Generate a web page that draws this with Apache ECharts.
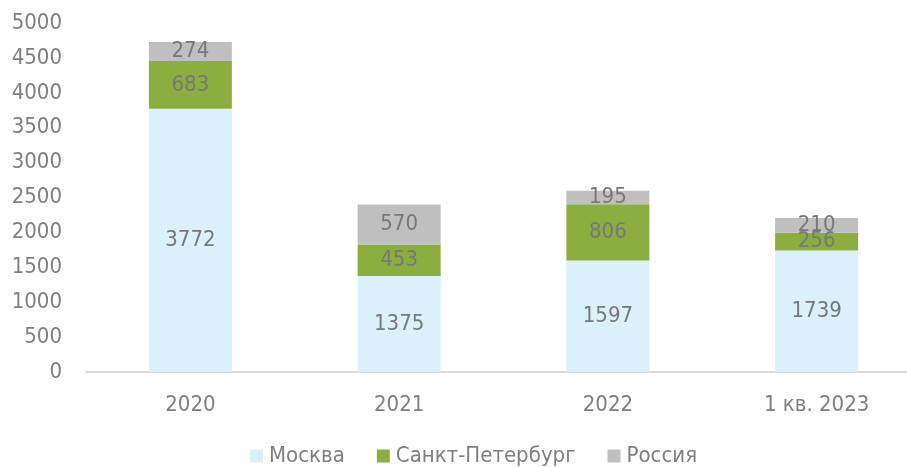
<!DOCTYPE html>
<html><head><meta charset="utf-8">
<script src="https://cdn.jsdelivr.net/npm/echarts@6/dist/echarts.min.js"></script>
<style>html,body{margin:0;padding:0;background:#fff;overflow:hidden}#c{width:922px;height:467px}</style>
</head><body><div id="c"></div>
<script>
const categories = ['2020', '2021', '2022', '1 кв. 2023'];
const moscow = [3772, 1375, 1597, 1739];
const spb = [683, 453, 806, 256];
const russia = [274, 570, 195, 210];
const seriesNames = ['Москва', 'Санкт-Петербург', 'Россия'];
const colors = ['#daf0fa', '#8cae40', '#bfbfbf'];

const FONT = '"DejaVu Sans Condensed", "DejaVu Sans", sans-serif';
const chart = echarts.init(document.getElementById('c'));
const lbl = {show: true, position: 'inside', color: '#787878', fontSize: 22, fontFamily: FONT};
chart.setOption({
  animation: false,
  grid: {left: 86, top: 23, right: 1, bottom: 95, containLabel: false},
  legend: {
    bottom: -5, left: 245, itemWidth: 13, itemHeight: 13, itemGap: 32,
    icon: 'rect',
    textStyle: {fontSize: 22, color: '#808080', fontFamily: FONT, padding: [0, 0, 0, 1]}
  },
  xAxis: {
    type: 'category', data: categories,
    axisLine: {lineStyle: {color: '#d9d9d9', width: 2}},
    axisTick: {show: false},
    axisLabel: {fontSize: 22, color: '#808080', fontFamily: FONT, margin: 22}
  },
  yAxis: {
    type: 'value', min: 0, max: 5000, interval: 500,
    splitLine: {show: false},
    axisLine: {show: false}, axisTick: {show: false},
    axisLabel: {fontSize: 22, color: '#808080', fontFamily: FONT, margin: 24, formatter: v => String(v)}
  },
  series: [
    {name: seriesNames[0], type: 'bar', stack: 's', data: moscow, barWidth: 83, itemStyle: {color: colors[0]}, label: lbl},
    {name: seriesNames[1], type: 'bar', stack: 's', data: spb, barWidth: 83, itemStyle: {color: colors[1]}, label: lbl},
    {name: seriesNames[2], type: 'bar', stack: 's', data: russia, barWidth: 83, itemStyle: {color: colors[2]}, label: lbl}
  ]
});
</script></body></html>
